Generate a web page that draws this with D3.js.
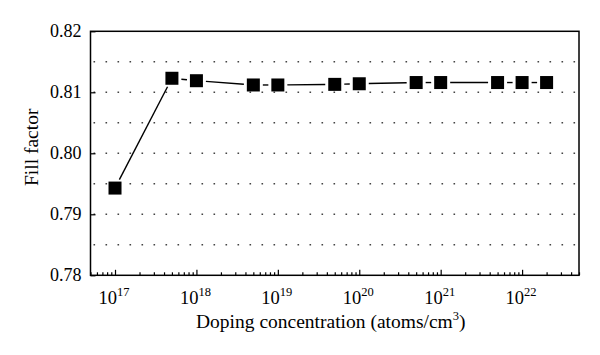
<!DOCTYPE html>
<html>
<head>
<meta charset="utf-8">
<script src="https://cdn.jsdelivr.net/npm/d3@7"></script>
<style>
  html, body { margin: 0; padding: 0; background: #fff; }
  svg { display: block; }
  svg text { font-family: "Liberation Serif", "Times New Roman", serif; fill: #000; }
</style>
</head>
<body>
<svg id="chart" width="600" height="355" font-family="Liberation Serif, serif"></svg>
<script>
// ---- data ----
const concentrations = [1e17, 5e17, 1e18, 5e18, 1e19, 5e19, 1e20, 5e20, 1e21, 5e21, 1e22, 2e22];
const fillFactor = [0.7943, 0.8123, 0.8119, 0.8112, 0.8112, 0.8113, 0.8114, 0.8116, 0.8116, 0.8116, 0.8116, 0.8116];
const yTickValues = [0.78, 0.79, 0.80, 0.81, 0.82];
const yTickLabels = ["0.78", "0.79", "0.80", "0.81", "0.82"];
const yGridValues = [0.785, 0.79, 0.795, 0.80, 0.805, 0.81, 0.815];
const xDecades = [1e17, 1e18, 1e19, 1e20, 1e21, 1e22];
const xDecadeExponents = ["17", "18", "19", "20", "21", "22"];
const xTitle = "Doping concentration (atoms/cm";
const xTitleSup = "3";
const xTitleEnd = ")";
const yTitle = "Fill factor";

// ---- layout ----
const svg = d3.select("#chart");
const pLeft = 90.5, pRight = 579, pTop = 31.3, pBottom = 275.3;
const FONT = "Liberation Serif, Times New Roman, serif";

const x = d3.scaleLog().domain([5e16, 5e22]).range([pLeft, pRight]);
const y = d3.scaleLinear().domain([0.78, 0.82]).range([pBottom, pTop]);

// gridlines (dotted)
svg.append("g").selectAll("line").data(yGridValues).join("line")
  .attr("x1", pLeft + 3).attr("x2", pRight)
  .attr("y1", d => y(d)).attr("y2", d => y(d))
  .attr("stroke", "#444").attr("stroke-width", 1.6)
  .attr("stroke-dasharray", "1.6 10.4");

// minor ticks on x (2..9 per decade)
const minor = [];
for (let e = 16; e <= 22; e++) {
  for (let m = 2; m <= 9; m++) {
    const v = m * Math.pow(10, e);
    if (v >= 5e16 && v <= 5e22) minor.push(v);
  }
}
svg.append("g").attr("transform", `translate(0,${pBottom})`)
  .call(d3.axisBottom(x).tickValues(minor).tickSize(-3).tickFormat(""))
  .call(g => g.select(".domain").remove())
  .call(g => g.selectAll("line").attr("stroke", "#000").attr("stroke-width", 1.2));

// major ticks on x
svg.append("g").attr("transform", `translate(0,${pBottom})`)
  .call(d3.axisBottom(x).tickValues(xDecades).tickSize(-5.5).tickFormat(""))
  .call(g => g.select(".domain").remove())
  .call(g => g.selectAll("line").attr("stroke", "#000").attr("stroke-width", 1.2));

// y ticks (inward)
svg.append("g").attr("transform", `translate(${pLeft},0)`)
  .call(d3.axisLeft(y).tickValues(yTickValues).tickSize(-5).tickFormat(""))
  .call(g => g.select(".domain").remove())
  .call(g => g.selectAll("line").attr("stroke", "#000").attr("stroke-width", 1.2));

// frame
svg.append("rect")
  .attr("x", pLeft).attr("y", pTop)
  .attr("width", pRight - pLeft).attr("height", pBottom - pTop)
  .attr("fill", "none").attr("stroke", "#000").attr("stroke-width", 1.5);

// y tick labels
svg.append("g").selectAll("text").data(yTickValues).join("text")
  .attr("font-family", FONT)
  .attr("x", pLeft - 9).attr("y", d => y(d) + 6)
  .attr("text-anchor", "end").attr("font-size", 18)
  .text((d, i) => yTickLabels[i]);

// x tick labels (10^n)
const xl = svg.append("g").selectAll("text").data(xDecades).join("text")
  .attr("font-family", FONT)
  .attr("x", d => x(d) - 1).attr("y", pBottom + 28.5)
  .attr("text-anchor", "middle").attr("font-size", 18.5);
xl.append("tspan").text("10");
xl.append("tspan").attr("dy", -8).attr("font-size", 12.5).text((d, i) => xDecadeExponents[i]);

// x title
const xt = svg.append("text")
  .attr("font-family", FONT)
  .attr("x", (pLeft + pRight) / 2 - 4).attr("y", pBottom + 53)
  .attr("text-anchor", "middle").attr("font-size", 19.5);
xt.append("tspan").text(xTitle);
xt.append("tspan").attr("dy", -8).attr("font-size", 12.5).text(xTitleSup);
xt.append("tspan").attr("dy", 8).text(xTitleEnd);

// y title
svg.append("text")
  .attr("font-family", FONT)
  .attr("transform", `translate(38,${(pTop + pBottom) / 2 - 6}) rotate(-90)`)
  .attr("text-anchor", "middle").attr("font-size", 19.5)
  .text(yTitle);

// line segments with gaps around markers
const pts = concentrations.map((c, i) => [x(c), y(fillFactor[i])]);
const gap = 9.5;
const segs = [];
for (let i = 0; i < pts.length - 1; i++) {
  const [x1, y1] = pts[i], [x2, y2] = pts[i + 1];
  const dx = x2 - x1, dy = y2 - y1, len = Math.hypot(dx, dy);
  if (len > 2 * gap) {
    const ux = dx / len, uy = dy / len;
    segs.push([x1 + ux * gap, y1 + uy * gap, x2 - ux * gap, y2 - uy * gap]);
  }
}
svg.append("g").selectAll("line").data(segs).join("line")
  .attr("x1", d => d[0]).attr("y1", d => d[1])
  .attr("x2", d => d[2]).attr("y2", d => d[3])
  .attr("stroke", "#000").attr("stroke-width", 1.4);

// markers
const ms = 13;
svg.append("g").selectAll("rect").data(concentrations).join("rect")
  .attr("x", d => x(d) - ms / 2)
  .attr("y", (d, i) => y(fillFactor[i]) - ms / 2)
  .attr("width", ms).attr("height", ms)
  .attr("fill", "#000");
</script>
</body>
</html>
